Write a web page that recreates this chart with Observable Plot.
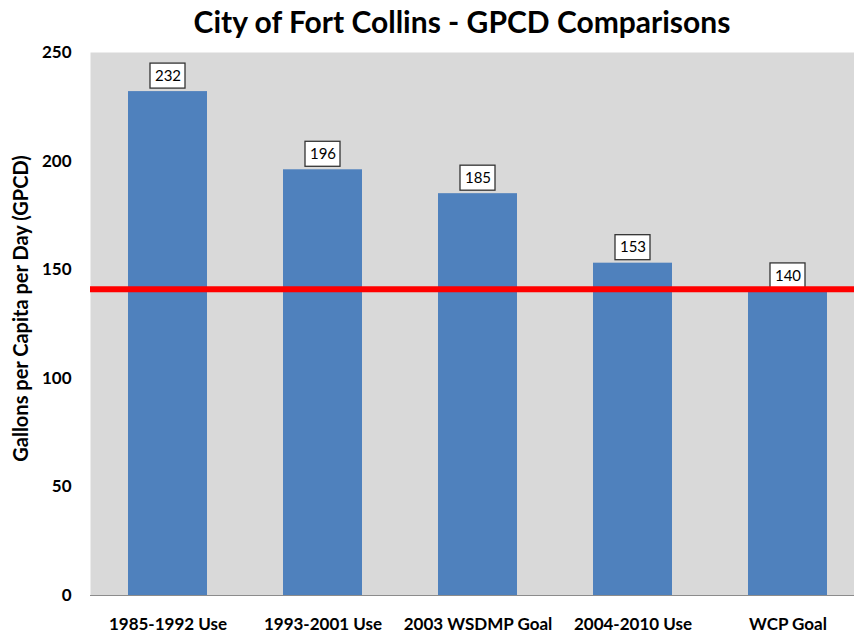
<!DOCTYPE html>
<html>
<head>
<meta charset="utf-8">
<script src="https://cdn.jsdelivr.net/npm/d3@7"></script>
<script src="https://cdn.jsdelivr.net/npm/@observablehq/plot@0.6"></script>
<style>
  html, body { margin: 0; padding: 0; background: #fff; overflow: hidden; }
  #title { height: 36px; padding-top: 3px; line-height: 36px; font-family: Lato, "Open Sans", sans-serif; font-weight: bold; font-size: 30px; color: #000; text-align: center; padding-left: 70px; box-sizing: border-box; width: 854px; white-space: nowrap; }
  #chart svg { overflow: hidden; display: block; }
</style>
</head>
<body>
<div id="title">City of Fort Collins - GPCD Comparisons</div>
<div id="chart"></div>
<script>
const categories = ["1985-1992 Use", "1993-2001 Use", "2003 WSDMP Goal", "2004-2010 Use", "WCP Goal"];
const values = [232, 196, 185, 153, 140];
const goalLine = [141];
const yTicks = [0, 50, 100, 150, 200, 250];
const yLabel = "Gallons per Capita per Day (GPCD)";

const data = categories.map((c, i) => ({category: c, value: values[i]}));
const font = "Lato, 'Open Sans', sans-serif";

const plot = Plot.plot({
  width: 854,
  height: 598,
  marginTop: 16,
  marginBottom: 39,
  marginLeft: 90,
  marginRight: 0,
  style: {fontFamily: font, fontSize: "15px", color: "#000", background: "transparent"},
  x: {domain: categories, range: [90, 866], paddingInner: 0.49, paddingOuter: 0.245, label: null},
  y: {domain: [0, 250], label: null},
  marks: [
    Plot.frame({fill: "#d9d9d9", stroke: null}),
    Plot.barY(data, {x: "category", y: "value", fill: "#4f81bd"}),
    Plot.ruleX([0], {stroke: "#8c8c8c", strokeWidth: 1, frameAnchor: "left"}),
    Plot.ruleY([0], {stroke: "#8c8c8c", strokeWidth: 1}),
    Plot.axisY({ticks: yTicks, tickSize: 0, tickPadding: 19, fontWeight: "bold", fontSize: 17, label: null}),
    Plot.axisX({tickSize: 0, tickPadding: 22, fontWeight: "bold", fontSize: 17, label: null}),
    Plot.barY(data, {x: "category", y1: "value", y2: "value", insetTop: -28, insetBottom: 3, insetLeft: 22, insetRight: 22, fill: "#fff", stroke: "#333", strokeWidth: 1.3}),
    Plot.text(data, {x: "category", y: "value", text: d => String(d.value), dy: -15.5, fontSize: 15, fill: "#000"}),
    Plot.ruleY(goalLine, {stroke: "#ff0000", strokeWidth: 6}),
    Plot.text([yLabel], {frameAnchor: "left", textAnchor: "middle", text: d => d, rotate: -90, dx: -69, dy: -15.5, fontWeight: "bold", fontSize: 20, fill: "#000"})
  ]
});
document.getElementById("chart").appendChild(plot);
</script>
</body>
</html>
